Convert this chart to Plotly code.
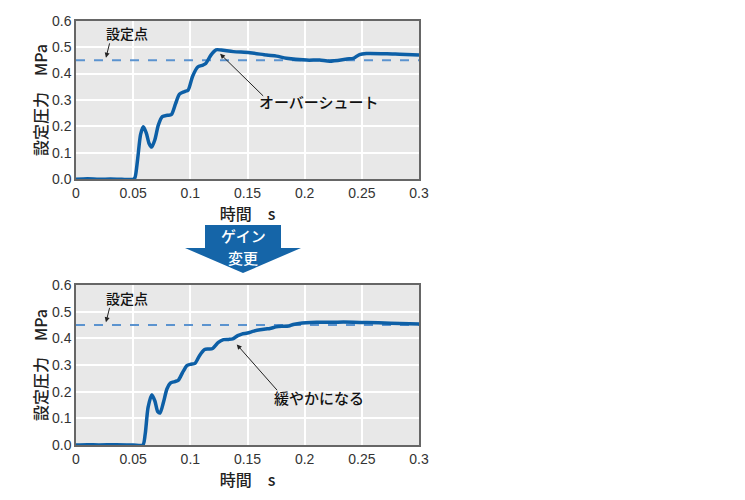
import plotly.graph_objects as go

# ---- data ----
t_before = [0, 0.01, 0.02, 0.03, 0.04, 0.05, 0.0515, 0.054, 0.0565, 0.0589, 0.0615, 0.064, 0.0662,
            0.069, 0.072, 0.0755, 0.080, 0.0835, 0.087, 0.0905, 0.095, 0.098, 0.102, 0.1065, 0.111,
            0.1135, 0.118, 0.1225, 0.127, 0.1376, 0.152, 0.1667, 0.1755, 0.184, 0.2017, 0.213,
            0.222, 0.237, 0.2426, 0.248, 0.254, 0.272, 0.283, 0.3]
p_before = [0, 0.002, 0, 0.001, 0, 0, 0.005, 0.08, 0.17, 0.199, 0.175, 0.135, 0.122,
            0.15, 0.205, 0.237, 0.242, 0.245, 0.285, 0.322, 0.332, 0.337, 0.39, 0.425, 0.432,
            0.438, 0.47, 0.49, 0.489, 0.483, 0.479, 0.470, 0.466, 0.458, 0.451, 0.451,
            0.447, 0.455, 0.4575, 0.472, 0.476, 0.475, 0.473, 0.470]

t_after = [0, 0.01, 0.02, 0.035, 0.05, 0.0585, 0.0605, 0.063, 0.0662, 0.069, 0.0715, 0.0735,
           0.0765, 0.0795, 0.0825, 0.0865, 0.0895, 0.093, 0.097, 0.1005, 0.104, 0.108, 0.1125,
           0.116, 0.1195, 0.1245, 0.129, 0.1335, 0.137, 0.1415, 0.145, 0.15, 0.1555, 0.161,
           0.166, 0.1697, 0.175, 0.18, 0.186, 0.19, 0.195, 0.2105, 0.225, 0.234, 0.254, 0.275, 0.3]
p_after = [0, 0.001, 0, 0.001, 0, 0, 0.04, 0.14, 0.188, 0.165, 0.125, 0.12,
           0.16, 0.21, 0.232, 0.238, 0.243, 0.27, 0.298, 0.303, 0.306, 0.335, 0.358,
           0.36, 0.362, 0.385, 0.395, 0.396, 0.398, 0.41, 0.416, 0.42, 0.427, 0.432,
           0.435, 0.437, 0.443, 0.445, 0.446, 0.452, 0.456, 0.46, 0.46, 0.461, 0.459, 0.457, 0.454]

setpoint = 0.45
x_ticks = [0, 0.05, 0.1, 0.15, 0.2, 0.25, 0.3]
x_tick_labels = ["0", "0.05", "0.1", "0.15", "0.2", "0.25", "0.3"]
y_ticks = [0, 0.1, 0.2, 0.3, 0.4, 0.5, 0.6]
y_tick_labels = ["0.0", "0.1", "0.2", "0.3", "0.4", "0.5", "0.6"]

FONT = "Liberation Sans, Arial, Noto Sans CJK JP, sans-serif"
JFONT = "Noto Sans CJK JP, sans-serif"
LINE = "#0d5fa6"
DASH = "#5b93cf"

# page body adds an 8px offset; compensate so the picture lands where the reference does
OFF = 8
W, H = 745, 500


def px(xp):
    return (xp - OFF) / W


def py(yp):
    return 1 - (yp - OFF) / H


fig = go.Figure()
for (t, p, xa, ya) in [(t_before, p_before, "x", "y"), (t_after, p_after, "x2", "y2")]:
    fig.add_trace(go.Scatter(x=[0, 0.3], y=[setpoint, setpoint], mode="lines", xaxis=xa, yaxis=ya,
                             line=dict(color=DASH, width=2, dash="dash"), hoverinfo="skip"))
    fig.add_trace(go.Scatter(x=t, y=p, mode="lines", xaxis=xa, yaxis=ya,
                             line=dict(color=LINE, width=3.5, shape="spline", smoothing=0.7)))

xd = [px(76), px(419)]
axis_common = dict(showline=True, linecolor="#666", linewidth=1.5, mirror=True,
                   showgrid=True, gridcolor="white", gridwidth=1.5, zeroline=False,
                   automargin=False,
                   tickfont=dict(family=FONT, size=14, color="#333"), ticks="")
title_font = dict(family=JFONT, size=16, color="#222", weight=500)
fig.update_layout(
    width=W, height=H, showlegend=False,
    margin=dict(l=0, r=0, t=0, b=0),
    paper_bgcolor="white", plot_bgcolor="#e8e8e8",
    xaxis=dict(domain=xd, range=[0, 0.3], tickvals=x_ticks, ticktext=x_tick_labels, anchor="y",
               title=dict(text="時間　s", font=title_font, standoff=0), **axis_common),
    yaxis=dict(domain=[py(179.3), py(20.7)], range=[0, 0.6], tickvals=y_ticks,
               ticktext=y_tick_labels, anchor="x",
               title=dict(text="設定圧力　MPa", font=title_font, standoff=0), **axis_common),
    xaxis2=dict(domain=xd, range=[0, 0.3], tickvals=x_ticks, ticktext=x_tick_labels, anchor="y2",
                title=dict(text="時間　s", font=title_font, standoff=0), **axis_common),
    yaxis2=dict(domain=[py(445), py(285)], range=[0, 0.6], tickvals=y_ticks,
                ticktext=y_tick_labels, anchor="x2",
                title=dict(text="設定圧力　MPa", font=title_font, standoff=0), **axis_common),
)

# gain-change arrow
arrow_path = ("M {a},{b} L {c},{b} L {c},{d} L {e},{d} L {f},{g} L {h},{d} L {i},{d} Z").format(
    a=px(205), b=py(225), c=px(281), d=py(248), e=px(301), f=px(243), g=py(273), h=px(185), i=px(205))
fig.add_shape(type="path", xref="paper", yref="paper", path=arrow_path,
              fillcolor="#1565a8", line=dict(width=0))
fig.add_annotation(xref="paper", yref="paper", x=px(243), y=py(235.5), text="ゲイン", showarrow=False,
                   xanchor="center", yanchor="middle",
                   font=dict(family=JFONT, size=15, color="white", weight=500))
fig.add_annotation(xref="paper", yref="paper", x=px(243), y=py(257.5), text="変更", showarrow=False,
                   xanchor="center", yanchor="middle",
                   font=dict(family=JFONT, size=15, color="white", weight=500))

ann_font = dict(family=JFONT, size=15, color="#111", weight=500)
# setpoint labels + arrows
for xa, ya in [("x", "y"), ("x2", "y2")]:
    fig.add_annotation(xref=xa, yref=ya, x=0.0443, y=0.553, text="設定点", showarrow=False,
                       font=dict(family=JFONT, size=14, color="#111", weight=500))
    fig.add_annotation(xref=xa, yref=ya, axref=xa, ayref=ya, x=0.0262, y=0.46, ax=0.0297, ay=0.52,
                       text="", showarrow=True, arrowhead=2, arrowsize=1, arrowwidth=1, arrowcolor="#222")

fig.add_annotation(xref="x", yref="y", x=0.2125, y=0.295, text="オーバーシュート", showarrow=False, font=ann_font)
fig.add_annotation(xref="x", yref="y", axref="x", ayref="y", x=0.126, y=0.475, ax=0.165, ay=0.31,
                   text="", showarrow=True, arrowhead=2, arrowsize=1, arrowwidth=1, arrowcolor="#222")
fig.add_annotation(xref="x2", yref="y2", x=0.2125, y=0.18, text="緩やかになる", showarrow=False, font=ann_font)
fig.add_annotation(xref="x2", yref="y2", axref="x2", ayref="y2", x=0.1406, y=0.377, ax=0.177, ay=0.2,
                   text="", showarrow=True, arrowhead=2, arrowsize=1, arrowwidth=1, arrowcolor="#222")

fig.write_html("out.html")
